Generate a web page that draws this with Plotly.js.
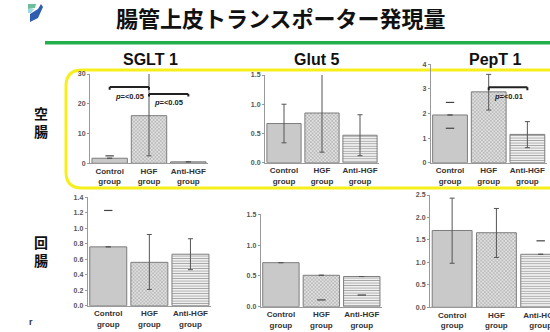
<!DOCTYPE html>
<html><head><meta charset="utf-8">
<script src="https://cdn.plot.ly/plotly-3.0.1.min.js"></script>
<style>html,body{margin:0;padding:0;background:#fff}#c{width:550px;height:332px}</style>
</head><body><div id="c"></div>
<script>
// ---- data ----
const groups = ['Control<br>group', 'HGF<br>group', 'Anti-HGF<br>group'];
const pageTitle = '腸管上皮トランスポーター発現量';
const transporters = ['SGLT 1', 'Glut 5', 'PepT 1'];
const segments = ['空<br>腸', '回<br>腸'];

// jejunum (空腸)
const sglt1JejMean = [1.7, 16.0, 0.5];
const sglt1JejErrUp = [0, 14.3, 0];
const sglt1JejErrDown = [0, 13.5, 0];
const sglt1JejCapHi = [2.5, null, null];
const sglt1JejCapLo = [null, null, null];

const glut5JejMean = [0.67, 0.85, 0.47];
const glut5JejErrUp = [0.33, 0.66, 0.35];
const glut5JejErrDown = [0.33, 0.67, 0.35];
const glut5JejCapHi = [null, null, null];
const glut5JejCapLo = [null, null, null];

const pept1JejMean = [1.94, 2.88, 1.15];
const pept1JejErrUp = [0, 0.71, 0.52];
const pept1JejErrDown = [0, 0.74, 0.54];
const pept1JejCapHi = [2.45, null, null];
const pept1JejCapLo = [1.40, null, null];

// ileum (回腸)
const sglt1IleMean = [0.76, 0.56, 0.665];
const sglt1IleErrUp = [0, 0.36, 0.2];
const sglt1IleErrDown = [0, 0.35, 0.2];
const sglt1IleCapHi = [1.23, null, null];
const sglt1IleCapLo = [null, null, null];

const glut5IleMean = [0.715, 0.51, 0.49];
const glut5IleErrUp = [0, 0, 0];
const glut5IleErrDown = [0, 0, 0];
const glut5IleCapHi = [1.64, null, null];
const glut5IleCapLo = [null, 0.11, 0.19];

const pept1IleMean = [1.71, 1.66, 1.18];
const pept1IleErrUp = [0.72, 0.54, 0];
const pept1IleErrDown = [0.73, 0.55, 0];
const pept1IleCapHi = [null, null, 1.48];
const pept1IleCapLo = [null, null, null];

// y ticks
const sglt1JejTicks = [0, 10, 20, 30];
const glut5JejTicks = [0, 0.5, 1.0, 1.5];
const pept1JejTicks = [0, 1, 2, 3, 4];
const sglt1IleTicks = [0, 0.2, 0.4, 0.6, 0.8, 1.0, 1.2, 1.4];
const glut5IleTicks = [0, 0.5, 1.0, 1.5];
const pept1IleTicks = [0, 0.5, 1.0, 1.5, 2.0, 2.5];

// significance
const sigPanel = [1, 1, 3];
const sigFrom = [0, 1, 1];
const sigTo = [1, 2, 2];
const sigY = [25.6, 23.3, 3.07];
const sigLabel = ['p=<0.05', 'p=<0.05', 'p=<0.01'];

// ---- layout helpers (pixel -> paper) ----
const W = 550, H = 332;
const px = x => x / W;
const py = y => 1 - y / H;

const panels = [
  {mean: sglt1JejMean, up: sglt1JejErrUp, dn: sglt1JejErrDown, hi: sglt1JejCapHi, lo: sglt1JejCapLo, ticks: sglt1JejTicks, fmt: 'd', range: [0, 30], xd: [90, 208], yd: [163.3, 74], xr: [-0.5, 2.5]},
  {mean: glut5JejMean, up: glut5JejErrUp, dn: glut5JejErrDown, hi: glut5JejCapHi, lo: glut5JejCapLo, ticks: glut5JejTicks, fmt: '.1f', range: [0, 1.5], xd: [265, 379], yd: [162.7, 75], xr: [-0.5, 2.5]},
  {mean: pept1JejMean, up: pept1JejErrUp, dn: pept1JejErrDown, hi: pept1JejCapHi, lo: pept1JejCapLo, ticks: pept1JejTicks, fmt: 'd', range: [0, 4], xd: [430.7, 546.7], yd: [162.7, 64.3], xr: [-0.5, 2.5]},
  {mean: sglt1IleMean, up: sglt1IleErrUp, dn: sglt1IleErrDown, hi: sglt1IleCapHi, lo: sglt1IleCapLo, ticks: sglt1IleTicks, fmt: '.1f', range: [0, 1.4], xd: [87.7, 211], yd: [305.7, 197.3], xr: [-0.5, 2.5]},
  {mean: glut5IleMean, up: glut5IleErrUp, dn: glut5IleErrDown, hi: glut5IleCapHi, lo: glut5IleCapLo, ticks: glut5IleTicks, fmt: '.1f', range: [0, 1.5], xd: [260.7, 382], yd: [306.7, 214.3], xr: [-0.5, 2.5]},
  {mean: pept1IleMean, up: pept1IleErrUp, dn: pept1IleErrDown, hi: pept1IleCapHi, lo: pept1IleCapLo, ticks: pept1IleTicks, fmt: '.1f', range: [0, 2.5], xd: [430, 550], yd: [307.3, 195], xr: [-0.5, 2.21]}
];

const barFill = ['#c9c9c9', '#e0e0e0', '#f0f0f0'];
const patFg = ['#c9c9c9', '#b0b0b0', '#cdcdcd'];
const patShape = ['', 'x', '-'];
const tickFont = {family: 'Liberation Sans, Arial', size: 7, color: '#555', weight: 'bold'};
const xFont = {family: 'Liberation Sans, Arial', size: 8, color: '#333', weight: 'bold'};

const traces = [];
const layout = {
  width: W, height: H, margin: {l: 0, r: 0, t: 0, b: 0},
  paper_bgcolor: '#fff', plot_bgcolor: 'rgba(0,0,0,0)',
  showlegend: false, bargap: 0.1,
  shapes: [], annotations: []
};

panels.forEach((p, i) => {
  const n = i + 1;
  const xa = 'x' + (n === 1 ? '' : n), ya = 'y' + (n === 1 ? '' : n);
  traces.push({
    type: 'bar', x: groups, y: p.mean, xaxis: xa, yaxis: ya, cliponaxis: false,
    marker: {color: barFill, line: {color: '#7d7d7d', width: 1},
      pattern: {shape: patShape, fillmode: 'overlay', fgcolor: patFg, size: 2.5, solidity: 0.3}},
    error_y: {type: 'data', symmetric: false, array: p.up, arrayminus: p.dn, color: '#555', thickness: 1, width: 2.5},
    hoverinfo: 'skip'
  });
  traces.push({
    type: 'scatter', mode: 'markers', x: groups.concat(groups), y: p.hi.concat(p.lo),
    xaxis: xa, yaxis: ya, cliponaxis: false,
    marker: {symbol: 'line-ew', size: 6, line: {color: '#444', width: 1.2}}, hoverinfo: 'skip'
  });
  layout['xaxis' + (n === 1 ? '' : n)] = {
    domain: [px(p.xd[0]), px(p.xd[1])], anchor: ya, type: 'category', range: p.xr,
    showline: true, linecolor: '#999', linewidth: 1, ticks: '', showgrid: false, zeroline: false,
    tickfont: xFont, fixedrange: true
  };
  layout['yaxis' + (n === 1 ? '' : n)] = {
    domain: [py(p.yd[0]), py(p.yd[1])], anchor: xa, range: p.range,
    showline: true, linecolor: '#999', linewidth: 1, ticks: 'outside', ticklen: 2, tickcolor: '#999',
    tickvals: p.ticks, tickformat: p.fmt, tickfont: tickFont, showgrid: false, zeroline: false, fixedrange: true
  };
});

// significance brackets
sigPanel.forEach((n, k) => {
  const p = panels[n - 1];
  const xr = 'x' + (n === 1 ? '' : n), yr = 'y' + (n === 1 ? '' : n);
  const tick = (p.range[1] - p.range[0]) * 0.03;
  const ln = {color: '#222', width: 2};
  layout.shapes.push({type: 'line', xref: xr, yref: yr, x0: sigFrom[k], x1: sigTo[k], y0: sigY[k], y1: sigY[k], line: ln});
  layout.shapes.push({type: 'line', xref: xr, yref: yr, x0: sigFrom[k], x1: sigFrom[k], y0: sigY[k], y1: sigY[k] - tick, line: ln});
  layout.shapes.push({type: 'line', xref: xr, yref: yr, x0: sigTo[k], x1: sigTo[k], y0: sigY[k], y1: sigY[k] - tick, line: ln});
  const lbl = sigLabel[k].replace('p', '<i>p</i>').replace('<0', '&lt;0');
  layout.annotations.push({xref: xr, yref: yr, x: (sigFrom[k] + sigTo[k]) / 2, y: sigY[k], yshift: -9, yanchor: 'middle', xanchor: 'center', text: lbl,
    showarrow: false, font: {family: 'Liberation Sans, Arial', size: 7.5, color: '#222', weight: 'bold'}});
});

// decorations: yellow rounded frame, green rule, logo
const P = (x, y) => px(x) + ',' + py(y);
layout.shapes.push({type: 'path', xref: 'paper', yref: 'paper', layer: 'below',
  path: 'M' + P(560, 70) + ' L' + P(82, 70) + ' Q' + P(66, 70) + ' ' + P(66, 86) + ' L' + P(66, 172) + ' Q' + P(66, 188) + ' ' + P(82, 188) + ' L' + P(560, 188),
  line: {color: '#f7ef1c', width: 3}});
layout.shapes.push({type: 'line', xref: 'paper', yref: 'paper', x0: px(45), x1: 1, y0: py(42.8), y1: py(42.8), line: {color: '#22b04c', width: 3.5}});
layout.shapes.push({type: 'path', xref: 'paper', yref: 'paper', fillcolor: '#2d5fae', line: {width: 0},
  path: 'M' + P(30, 14) + ' L' + P(38, 9) + ' L' + P(41, 4) + ' L' + P(43, 7) + ' L' + P(38, 18) + ' L' + P(30, 22) + ' Z'});
layout.shapes.push({type: 'path', xref: 'paper', yref: 'paper', fillcolor: '#6cbf9a', line: {width: 0},
  path: 'M' + P(28, 4) + ' L' + P(36, 4) + ' L' + P(35, 8) + ' L' + P(28, 9) + ' Z'});
layout.shapes.push({type: 'path', xref: 'paper', yref: 'paper', fillcolor: '#9fd8e6', line: {width: 0},
  path: 'M' + P(28, 9) + ' L' + P(34, 9) + ' L' + P(31, 13) + ' L' + P(28, 13) + ' Z'});

// text
const ann = (x, y, text, font) => layout.annotations.push({xref: 'paper', yref: 'paper', x: px(x), y: py(y), text: text,
  showarrow: false, xanchor: 'center', yanchor: 'middle', font: font});
ann(281, 17, pageTitle, {family: 'Noto Sans CJK JP', size: 22, color: '#111', weight: 'bold'});
const subX = [150, 316.7, 495];
transporters.forEach((t, i) => ann(subX[i], 59, t, {family: 'Liberation Sans, Arial', size: 16, color: '#111', weight: 'bold'}));
const segY = [122, 251];
segments.forEach((s, i) => ann(41, segY[i], s, {family: 'Noto Sans CJK JP', size: 14, color: '#111', weight: 'bold'}));
ann(31, 322, 'r', {family: 'Liberation Sans, Arial', size: 9, color: '#333', weight: 'bold'});

Plotly.newPlot('c', traces, layout, {displayModeBar: false, staticPlot: true});
</script></body></html>
